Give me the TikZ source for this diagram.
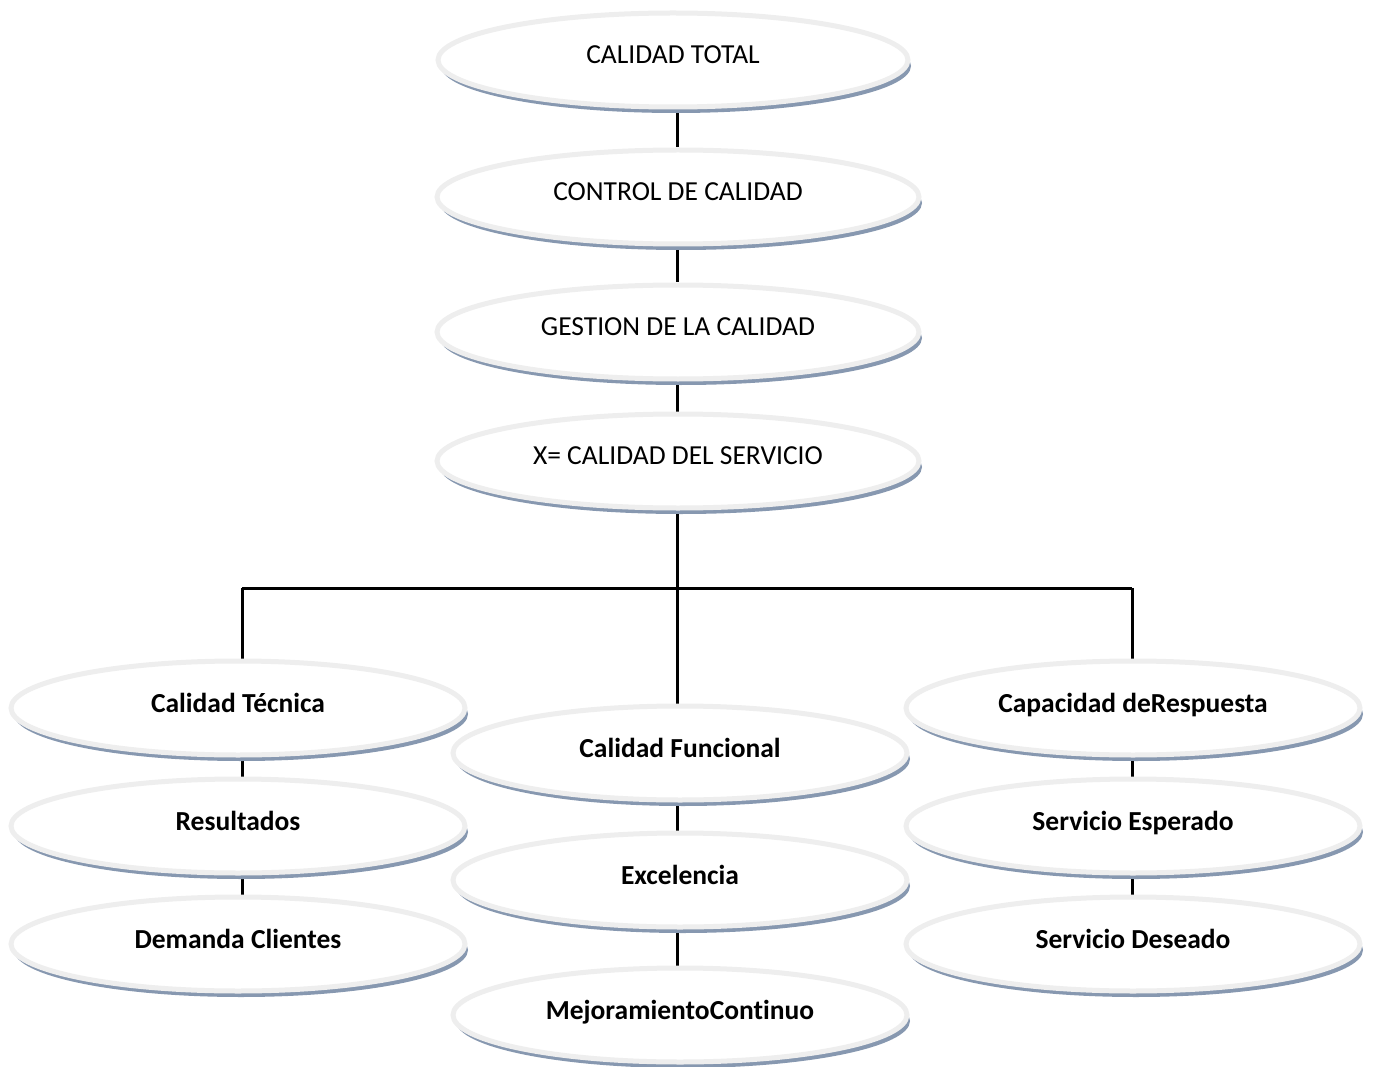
\documentclass[tikz,border=0pt]{standalone}
\usepackage{fontspec}
\setmainfont[Ligatures=NoCommon]{Carlito}
\usetikzlibrary{shapes.geometric,shadows,backgrounds}
\definecolor{ringc}{HTML}{EEEEEE}
\definecolor{shc}{HTML}{8798B0}
\tikzset{
  oval/.style={ellipse, draw=ringc, line width=5pt, fill=white, inner sep=0pt,
    minimum width=#1, minimum height=94pt, font=\fontsize{27.5}{32}\selectfont,
    drop shadow={shadow xshift=3pt, shadow yshift=-6pt, fill=shc, opacity=1}},
  oval/.default=454pt,
  boval/.style={oval=454pt, font=\fontsize{27.5}{32}\selectfont\bfseries},
  conn/.style={line width=3pt, draw=black}
}
\newcommand{\up}[1]{\raisebox{10pt}{#1}}
\begin{document}
\begin{tikzpicture}[x=1pt,y=-1pt]
\useasboundingbox (0,0) rectangle (1376,1067);
% top chain
\node[oval=470pt] (tot) at (673,60) {\up{CALIDAD TOTAL}};
\node[oval=482pt] (ctl) at (678,197) {\up{CONTROL DE CALIDAD}};
\node[oval=482pt] (ges) at (678,332) {\up{GESTION DE LA CALIDAD}};
\node[oval=482pt] (xcs) at (678,461) {\up{X= CALIDAD DEL SERVICIO}};
% left column
\node[boval] (tec) at (238,708) {\up{Calidad Técnica}};
\node[boval] (res) at (238,826) {\up{Resultados}};
\node[boval] (dem) at (238,944) {\up{Demanda Clientes}};
% middle column
\node[boval] (fun) at (680,753) {\up{Calidad Funcional}};
\node[boval] (exc) at (680,880) {\up{Excelencia}};
\node[boval] (mej) at (680,1015) {\up{MejoramientoContinuo}};
% right column
\node[boval] (cap) at (1133,708) {\up{Capacidad deRespuesta}};
\node[boval] (esp) at (1133,826) {\up{Servicio Esperado}};
\node[boval] (des) at (1133,944) {\up{Servicio Deseado}};
% junctions
\coordinate (jm) at (677,588);
\coordinate (jl) at (242,588);
\coordinate (jr) at (1132,588);
\begin{pgfonlayer}{background}
\draw[conn] (tot.south -| jm) -- (ctl.north -| jm);
\draw[conn] (ctl.south -| jm) -- (ges.north -| jm);
\draw[conn] (ges.south -| jm) -- (xcs.north -| jm);
\draw[conn] (xcs.south -| jm) -- (jm) -- (fun.north -| jm);
\draw[conn] (jl) -- (jr);
\draw[conn] (jl) -- (tec.north -| jl);
\draw[conn] (jr) -- (cap.north -| jr);
\draw[conn] (tec.south -| jl) -- (res.north -| jl);
\draw[conn] (res.south -| jl) -- (dem.north -| jl);
\draw[conn] (fun.south -| jm) -- (exc.north -| jm);
\draw[conn] (exc.south -| jm) -- (mej.north -| jm);
\draw[conn] (cap.south -| jr) -- (esp.north -| jr);
\draw[conn] (esp.south -| jr) -- (des.north -| jr);
\end{pgfonlayer}
\end{tikzpicture}
\end{document}
